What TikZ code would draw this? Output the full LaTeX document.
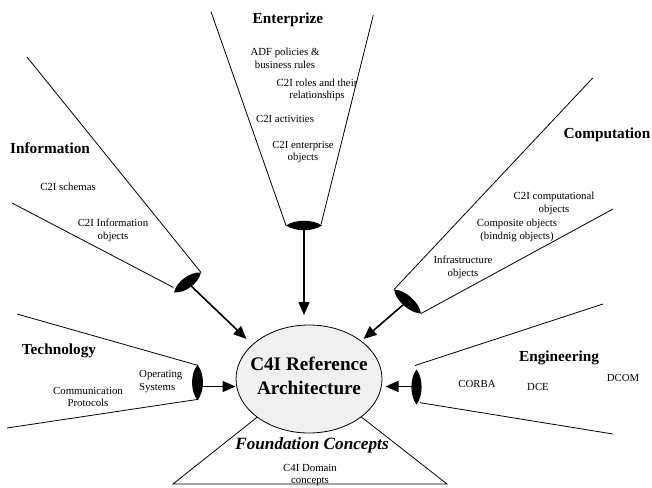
\documentclass[tikz,border=0pt]{standalone}
\usepackage{fontspec}
\setmainfont{Liberation Serif}
\usetikzlibrary{arrows.meta,calc,shapes.geometric}

% black lens between two points, #3 = control offset (bulge)
\newcommand\lensfill[3]{%
  \fill (#1) .. controls ($(#1)!0.25!(#2)!#3!90:(#2)$) and ($(#1)!0.75!(#2)!#3!90:(#2)$) .. (#2)
    .. controls ($(#1)!0.75!(#2)!#3!-90:(#2)$) and ($(#1)!0.25!(#2)!#3!-90:(#2)$) .. (#1) -- cycle;}

\tikzset{
  funnel/.style={line width=0.8pt},
  feed/.style={line width=1.6pt, -{Triangle[length=13pt,width=11pt]}},
  viewname/.style={font=\fontsize{15.3}{17}\selectfont\bfseries, inner sep=0pt},
  item/.style={font=\fontsize{10.8}{12.8}\selectfont, align=center, inner sep=0pt},
}

\begin{document}
\begin{tikzpicture}[x=1pt,y=-1pt]
\useasboundingbox (0,0) rectangle (652,487);

% Foundation triangle (apex hidden behind the core ellipse)
\draw[funnel] (309,376) -- (173,484) -- (447,484) -- cycle;

% core
\node[ellipse, draw, line width=0.8pt, fill=gray!12, minimum width=146pt, minimum height=108pt, inner sep=0pt]
  (core) at (309,379) {};
\node[font=\fontsize{19.2}{24}\selectfont\bfseries, align=center, inner sep=0pt] (coretxt) at (309,376)
  {C4I Reference\\Architecture};
\node[font=\fontsize{17.2}{20}\selectfont\bfseries\itshape, inner sep=0pt] (found) at (312,445) {Foundation Concepts};
\node[item] (domain) at (310,475) {C4I Domain\\concepts};

% lens end points and centres
\coordinate (entA) at (286,225.5);  \coordinate (entB) at (322,225.5);  \coordinate (lensEnt) at (304,226);
\coordinate (infA) at (174,292.5);  \coordinate (infB) at (201,272.5);  \coordinate (lensInf) at (188,283);
\coordinate (cmpA) at (394,289.5);  \coordinate (cmpB) at (421,313.5);  \coordinate (lensCmp) at (407,301.5);
\coordinate (tecA) at (197.5,365);  \coordinate (tecB) at (197.5,400);  \coordinate (lensTec) at (197.5,386.5);
\coordinate (engA) at (416.5,369.5);\coordinate (engB) at (416.5,404.5);\coordinate (lensEng) at (416.5,386.5);

% arrow tips
\coordinate (tipEnt) at (304,315);
\coordinate (tipInf) at (246.5,339);
\coordinate (tipCmp) at (363.5,339);
\coordinate (tipTec) at (235.5,386.5);
\coordinate (tipEng) at (385.5,386.5);

% funnels
\draw[funnel] (211,11.7) -- (entA);
\draw[funnel] (373.3,15) -- (321,224.5);
\draw[funnel] (27,57) -- (infB);
\draw[funnel] (12,203) -- (173.5,287.5);
\draw[funnel] (592.7,78) -- (cmpA);
\draw[funnel] (613,209) -- (cmpB);
\draw[funnel] (17,314) -- (198.3,365.5);
\draw[funnel] (7,428) -- (198.3,399.3);
\draw[funnel] (603,304) -- (415,365.5);
\draw[funnel] (613,434) -- (420,402.7);

% feeds into the core
\draw[feed] (lensEnt) -- (tipEnt);
\draw[feed] (lensInf) -- (tipInf);
\draw[feed] (lensCmp) -- (tipCmp);
\draw[feed] (lensTec) -- (tipTec);
\draw[feed] (lensEng) -- (tipEng);

\lensfill{entA}{entB}{6.3pt}
\lensfill{infA}{infB}{7.3pt}
\lensfill{cmpA}{cmpB}{7.3pt}
\lensfill{tecA}{tecB}{7.3pt}
\lensfill{engA}{engB}{6.8pt}

% Enterprize
\node[viewname] (ent) at (288,20) {Enterprize};
\node[item] (adf) at (285,58) {ADF policies \&\\business rules};
\node[item] (roles) at (317,90) {C2I roles and their\\relationships};
\node[item] (act) at (285,119) {C2I activities};
\node[item] (entobj) at (303,152) {C2I enterprise\\objects};

% Information
\node[viewname] (inf) at (50,148) {Information};
\node[item] (schemas) at (68,187) {C2I schemas};
\node[item] (infobj) at (113,230.5) {C2I Information\\objects};

% Computation
\node[viewname] (cmp) at (607,135) {Computation};
\node[item] (compobj) at (554,203.5) {C2I computational\\objects};
\node[item] (composite) at (517,230.5) {Composite objects\\(bindnig objects)};
\node[item] (infra) at (463,267) {Infrastructure\\objects};

% Technology
\node[viewname] (tec) at (59,351) {Technology};
\node[item, align=left, anchor=west] (os) at (139,381.5) {Operating\\Systems};
\node[item] (comm) at (88,397) {Communication\\Protocols};

% Engineering
\node[viewname] (eng) at (559,358) {Engineering};
\node[item] (corba) at (477,384) {CORBA};
\node[item] (dce) at (538,387) {DCE};
\node[item] (dcom) at (623,378) {DCOM};
\end{tikzpicture}
\end{document}
